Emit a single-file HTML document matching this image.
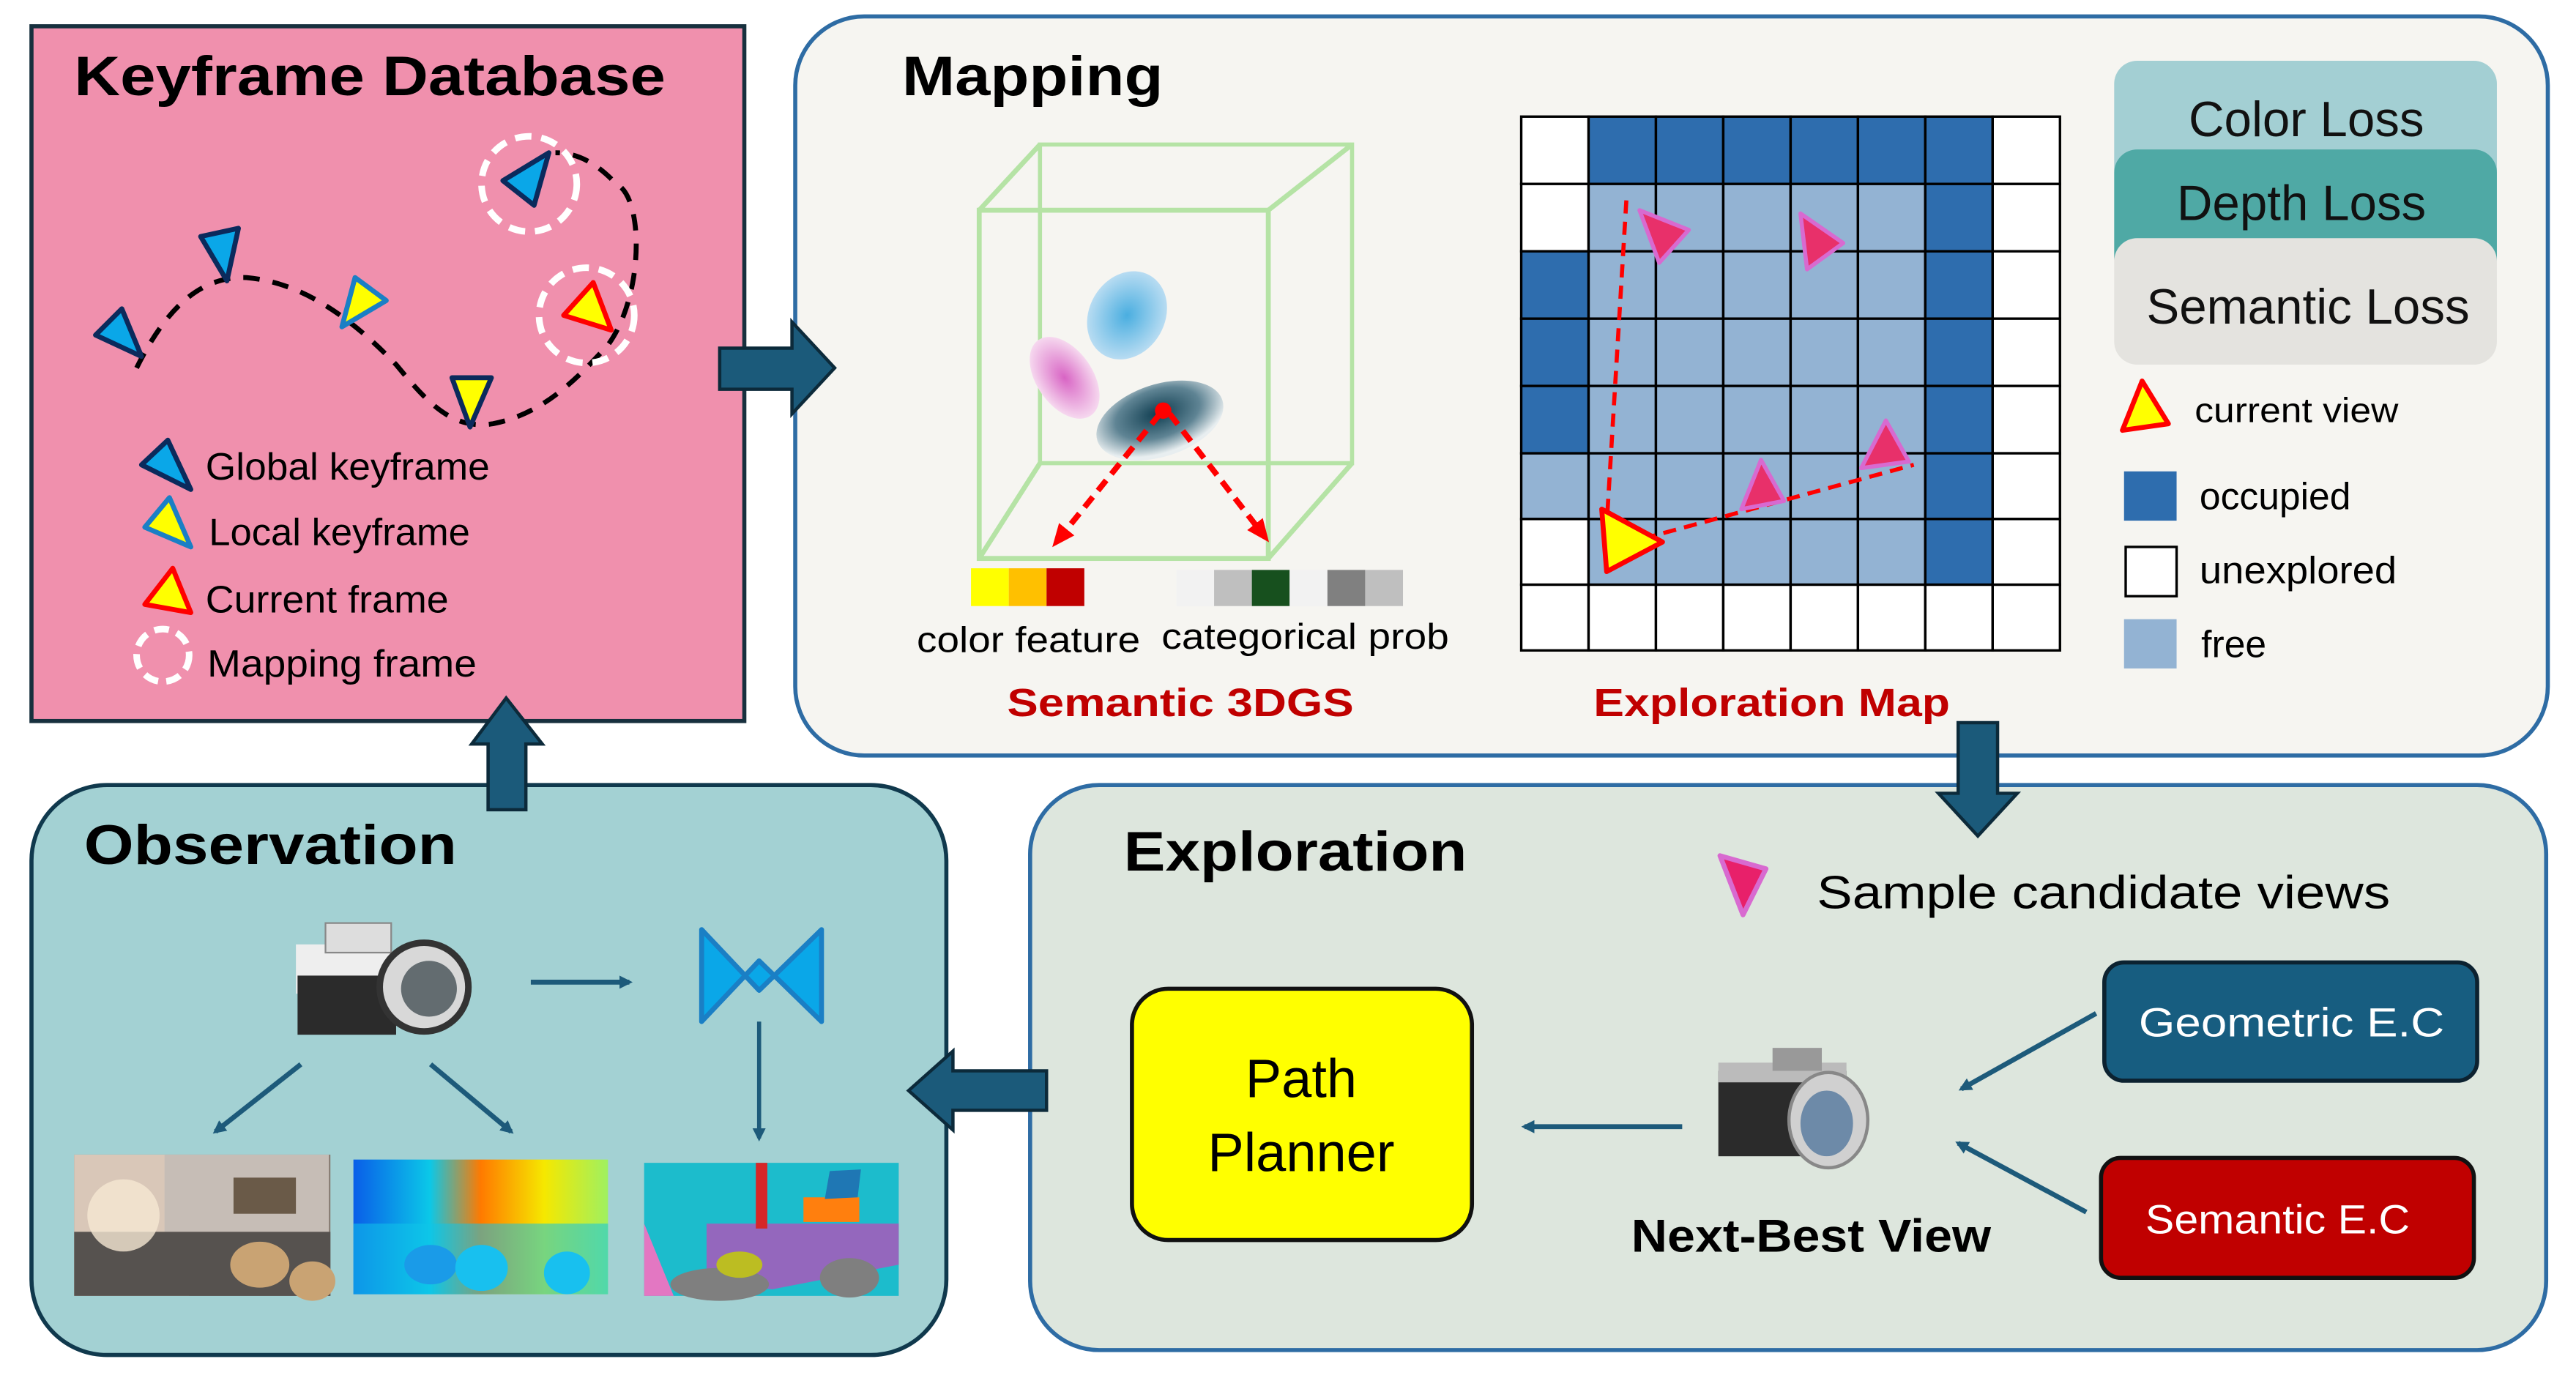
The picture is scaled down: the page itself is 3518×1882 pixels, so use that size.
<!DOCTYPE html>
<html><head><meta charset="utf-8"><style>html,body{margin:0;padding:0;background:#fff}svg{display:block}text{font-family:"Liberation Sans",sans-serif}</style></head><body>
<svg width="3518" height="1882" viewBox="0 0 1568 839" xmlns="http://www.w3.org/2000/svg">
<defs>
<radialGradient id="gb" cx="50%" cy="50%" r="50%"><stop offset="0" stop-color="#4aaee0"/><stop offset="1" stop-color="#b8dcf2"/></radialGradient>
<radialGradient id="gp" cx="50%" cy="50%" r="50%"><stop offset="0" stop-color="#d864c4"/><stop offset="1" stop-color="#f6d8ef"/></radialGradient>
<radialGradient id="gd" cx="50%" cy="40%" r="55%"><stop offset="0" stop-color="#0f3d50"/><stop offset="0.6" stop-color="#5f8494"/><stop offset="1" stop-color="#e8eef0"/></radialGradient>
<linearGradient id="depth" x1="0" y1="0" x2="1" y2="0"><stop offset="0" stop-color="#0a5ee8"/><stop offset="0.3" stop-color="#0bc8e8"/><stop offset="0.5" stop-color="#ff7a00"/><stop offset="0.75" stop-color="#f5e800"/><stop offset="1" stop-color="#9ff060"/></linearGradient>
<marker id="ab" markerWidth="8" markerHeight="8" refX="6" refY="4" orient="auto" markerUnits="userSpaceOnUse"><path d="M0,0 L8,4 L0,8 z" fill="#1d5a7a"/></marker>
<marker id="ar" markerWidth="14" markerHeight="12" refX="10" refY="6" orient="auto" markerUnits="userSpaceOnUse"><path d="M0,0 L14,6 L0,12 z" fill="#f00"/></marker>
</defs>
<rect width="1568" height="839" fill="#fff"/>

<!-- Keyframe Database -->
<rect x="19" y="16" width="434" height="423" fill="#F090AD" stroke="#17303e" stroke-width="2.5"/>
<text x="45" y="58" font-size="34" font-weight="bold" textLength="360" lengthAdjust="spacingAndGlyphs">Keyframe Database</text>
<path d="M83,224 C100,190 120,168 150,169 C185,172 215,195 241,222 C260,245 275,262 300,258 C330,252 350,232 370,210 C392,180 392,120 375,112 C362,98 350,93 338,93" fill="none" stroke="#000" stroke-width="3" stroke-dasharray="10,8"/>
<circle cx="322" cy="112" r="29" fill="none" stroke="#fff" stroke-width="4" stroke-dasharray="10,6"/>
<circle cx="357" cy="192" r="29" fill="none" stroke="#fff" stroke-width="4" stroke-dasharray="10,6"/>
<g stroke-width="3" stroke-linejoin="round">
<polygon points="58,204 74,188 86,217" fill="#0aa7e8" stroke="#0b2a5c"/>
<polygon points="122,144 145,139 138,171" fill="#0aa7e8" stroke="#0b2a5c"/>
<polygon points="208,199 216,169 235,183" fill="#ffff00" stroke="#1a7fc5"/>
<polygon points="275,230 299,230 286,260" fill="#ffff00" stroke="#0b2a5c"/>
<polygon points="306,110 334,93 325,125" fill="#0aa7e8" stroke="#0b2a5c"/>
<polygon points="361,172 343,192 372,201" fill="#ffff00" stroke="#f00"/>
<polygon points="86,283 102,268 116,298" fill="#0aa7e8" stroke="#0b2a5c"/>
<polygon points="88,321 103,303 116,333" fill="#ffff00" stroke="#1a7fc5"/>
<polygon points="88,368 105,346 116,373" fill="#ffff00" stroke="#f00"/>
</g>
<circle cx="99" cy="399" r="16" fill="none" stroke="#fff" stroke-width="4" stroke-dasharray="9,5"/>
<g font-size="23" fill="#000">
<text x="125" y="292" textLength="173" lengthAdjust="spacingAndGlyphs">Global keyframe</text>
<text x="127" y="332" textLength="159" lengthAdjust="spacingAndGlyphs">Local keyframe</text>
<text x="125" y="373" textLength="148" lengthAdjust="spacingAndGlyphs">Current frame</text>
<text x="126" y="412" textLength="164" lengthAdjust="spacingAndGlyphs">Mapping frame</text>
</g>

<!-- Mapping -->
<rect x="484" y="10" width="1067" height="450" rx="42" fill="#F6F5F1" stroke="#2E6CA4" stroke-width="2.5"/>
<text x="549" y="58" font-size="34" font-weight="bold" textLength="159" lengthAdjust="spacingAndGlyphs">Mapping</text>
<g fill="none" stroke="#b5e3a5" stroke-width="3">
<rect x="596" y="128" width="176" height="212"/>
<rect x="633" y="88" width="190" height="194" stroke-width="2.5"/>
<line x1="596" y1="128" x2="633" y2="88"/><line x1="772" y1="128" x2="823" y2="88"/>
<line x1="596" y1="340" x2="633" y2="282"/><line x1="772" y1="340" x2="823" y2="282"/>
</g>
<ellipse cx="686" cy="192" rx="23" ry="28" transform="rotate(30 686 192)" fill="url(#gb)"/>
<ellipse cx="648" cy="230" rx="17" ry="28" transform="rotate(-35 648 230)" fill="url(#gp)"/>
<ellipse cx="706" cy="256" rx="40" ry="22" transform="rotate(-18 706 256)" fill="url(#gd)"/>
<circle cx="708" cy="250" r="5" fill="#f00"/>
<g stroke="#f00" stroke-width="3.5" stroke-dasharray="8,5" fill="none">
<line x1="706" y1="252" x2="643" y2="330" marker-end="url(#ar)"/>
<line x1="712" y1="252" x2="770" y2="327" marker-end="url(#ar)"/>
</g>
<rect x="591" y="346" width="23" height="23" fill="#ffff00"/><rect x="614" y="346" width="23" height="23" fill="#ffc000"/><rect x="637" y="346" width="23" height="23" fill="#c00000"/>
<rect x="716" y="347" width="23" height="22" fill="#f2f2f2"/><rect x="739" y="347" width="23" height="22" fill="#bfbfbf"/><rect x="762" y="347" width="23" height="22" fill="#17501e"/><rect x="785" y="347" width="23" height="22" fill="#f2f2f2"/><rect x="808" y="347" width="23" height="22" fill="#808080"/><rect x="831" y="347" width="23" height="22" fill="#bfbfbf"/>
<text x="558" y="397" font-size="22" textLength="136" lengthAdjust="spacingAndGlyphs">color feature</text>
<text x="707" y="395" font-size="22" textLength="175" lengthAdjust="spacingAndGlyphs">categorical prob</text>
<text x="613" y="436" font-size="24" font-weight="bold" fill="#c00000" textLength="211" lengthAdjust="spacingAndGlyphs">Semantic 3DGS</text>

<g stroke="#000" stroke-width="1.5">
<rect x="926" y="71" width="41" height="41" fill="#fff"/><rect x="967" y="71" width="41" height="41" fill="#2E6DAE"/><rect x="1008" y="71" width="41" height="41" fill="#2E6DAE"/><rect x="1049" y="71" width="41" height="41" fill="#2E6DAE"/><rect x="1090" y="71" width="41" height="41" fill="#2E6DAE"/><rect x="1131" y="71" width="41" height="41" fill="#2E6DAE"/><rect x="1172" y="71" width="41" height="41" fill="#2E6DAE"/><rect x="1213" y="71" width="41" height="41" fill="#fff"/>
<rect x="926" y="112" width="41" height="41" fill="#fff"/><rect x="967" y="112" width="41" height="41" fill="#93B3D3"/><rect x="1008" y="112" width="41" height="41" fill="#93B3D3"/><rect x="1049" y="112" width="41" height="41" fill="#93B3D3"/><rect x="1090" y="112" width="41" height="41" fill="#93B3D3"/><rect x="1131" y="112" width="41" height="41" fill="#93B3D3"/><rect x="1172" y="112" width="41" height="41" fill="#2E6DAE"/><rect x="1213" y="112" width="41" height="41" fill="#fff"/>
<rect x="926" y="153" width="41" height="41" fill="#2E6DAE"/><rect x="967" y="153" width="41" height="41" fill="#93B3D3"/><rect x="1008" y="153" width="41" height="41" fill="#93B3D3"/><rect x="1049" y="153" width="41" height="41" fill="#93B3D3"/><rect x="1090" y="153" width="41" height="41" fill="#93B3D3"/><rect x="1131" y="153" width="41" height="41" fill="#93B3D3"/><rect x="1172" y="153" width="41" height="41" fill="#2E6DAE"/><rect x="1213" y="153" width="41" height="41" fill="#fff"/>
<rect x="926" y="194" width="41" height="41" fill="#2E6DAE"/><rect x="967" y="194" width="41" height="41" fill="#93B3D3"/><rect x="1008" y="194" width="41" height="41" fill="#93B3D3"/><rect x="1049" y="194" width="41" height="41" fill="#93B3D3"/><rect x="1090" y="194" width="41" height="41" fill="#93B3D3"/><rect x="1131" y="194" width="41" height="41" fill="#93B3D3"/><rect x="1172" y="194" width="41" height="41" fill="#2E6DAE"/><rect x="1213" y="194" width="41" height="41" fill="#fff"/>
<rect x="926" y="235" width="41" height="41" fill="#2E6DAE"/><rect x="967" y="235" width="41" height="41" fill="#93B3D3"/><rect x="1008" y="235" width="41" height="41" fill="#93B3D3"/><rect x="1049" y="235" width="41" height="41" fill="#93B3D3"/><rect x="1090" y="235" width="41" height="41" fill="#93B3D3"/><rect x="1131" y="235" width="41" height="41" fill="#93B3D3"/><rect x="1172" y="235" width="41" height="41" fill="#2E6DAE"/><rect x="1213" y="235" width="41" height="41" fill="#fff"/>
<rect x="926" y="276" width="41" height="40" fill="#93B3D3"/><rect x="967" y="276" width="41" height="40" fill="#93B3D3"/><rect x="1008" y="276" width="41" height="40" fill="#93B3D3"/><rect x="1049" y="276" width="41" height="40" fill="#93B3D3"/><rect x="1090" y="276" width="41" height="40" fill="#93B3D3"/><rect x="1131" y="276" width="41" height="40" fill="#93B3D3"/><rect x="1172" y="276" width="41" height="40" fill="#2E6DAE"/><rect x="1213" y="276" width="41" height="40" fill="#fff"/>
<rect x="926" y="316" width="41" height="40" fill="#fff"/><rect x="967" y="316" width="41" height="40" fill="#93B3D3"/><rect x="1008" y="316" width="41" height="40" fill="#93B3D3"/><rect x="1049" y="316" width="41" height="40" fill="#93B3D3"/><rect x="1090" y="316" width="41" height="40" fill="#93B3D3"/><rect x="1131" y="316" width="41" height="40" fill="#93B3D3"/><rect x="1172" y="316" width="41" height="40" fill="#2E6DAE"/><rect x="1213" y="316" width="41" height="40" fill="#fff"/>
<rect x="926" y="356" width="41" height="40" fill="#fff"/><rect x="967" y="356" width="41" height="40" fill="#fff"/><rect x="1008" y="356" width="41" height="40" fill="#fff"/><rect x="1049" y="356" width="41" height="40" fill="#fff"/><rect x="1090" y="356" width="41" height="40" fill="#fff"/><rect x="1131" y="356" width="41" height="40" fill="#fff"/><rect x="1172" y="356" width="41" height="40" fill="#fff"/><rect x="1213" y="356" width="41" height="40" fill="#fff"/>
</g>
<g stroke="#f00" stroke-width="2.5" stroke-dasharray="8,5" fill="none">
<line x1="990" y1="122" x2="978" y2="320"/>
<line x1="1000" y1="328" x2="1165" y2="283"/>
</g>
<g fill="#e8306a" stroke="#d86ad0" stroke-width="2.5" stroke-linejoin="round">
<polygon points="998,128 1028,140 1010,160"/>
<polygon points="1096,130 1122,148 1100,164"/>
<polygon points="1060,310 1072,280 1086,305"/>
<polygon points="1133,285 1148,256 1162,281"/>
</g>
<polygon points="975,310 1012,330 978,348" fill="#ffff00" stroke="#f00" stroke-width="3" stroke-linejoin="round"/>
<text x="970" y="436" font-size="24" font-weight="bold" fill="#c00000" textLength="217" lengthAdjust="spacingAndGlyphs">Exploration Map</text>

<rect x="1287" y="37" width="233" height="80" rx="14" fill="#A3CFD3"/>
<rect x="1287" y="91" width="233" height="80" rx="14" fill="#4FA9A5"/>
<rect x="1287" y="145" width="233" height="77" rx="14" fill="#E4E3DF"/>
<text x="1404" y="83" font-size="30" text-anchor="middle" fill="#111">Color Loss</text>
<text x="1401" y="134" font-size="30" text-anchor="middle" fill="#111">Depth Loss</text>
<text x="1405" y="197" font-size="30" text-anchor="middle" fill="#111">Semantic Loss</text>
<polygon points="1304,232 1292,262 1320,258" fill="#ffff00" stroke="#f00" stroke-width="3" stroke-linejoin="round"/>
<text x="1336" y="257" font-size="21" textLength="124" lengthAdjust="spacingAndGlyphs">current view</text>
<rect x="1293" y="287" width="32" height="30" fill="#2E6DAE"/>
<text x="1339" y="310" font-size="23">occupied</text>
<rect x="1294" y="333" width="31" height="30" fill="#fff" stroke="#000" stroke-width="1.5"/>
<text x="1339" y="355" font-size="23" textLength="120" lengthAdjust="spacingAndGlyphs">unexplored</text>
<rect x="1293" y="377" width="32" height="30" fill="#93B3D3"/>
<text x="1340" y="400" font-size="23">free</text>

<!-- Observation -->
<rect x="19" y="478" width="557" height="347" rx="46" fill="#A3D1D3" stroke="#10394d" stroke-width="2.5"/>
<text x="51" y="526" font-size="34" font-weight="bold" textLength="227" lengthAdjust="spacingAndGlyphs">Observation</text>
<g>
<rect x="180" y="575" width="58" height="30" fill="#eee"/>
<rect x="198" y="562" width="40" height="18" fill="#ddd" stroke="#888" stroke-width="1"/>
<rect x="181" y="594" width="60" height="36" fill="#2b2b2b"/>
<circle cx="258" cy="601" r="27" fill="#d8d8d8" stroke="#333" stroke-width="4"/>
<circle cx="261" cy="602" r="17" fill="#636c70"/>
</g>
<line x1="323" y1="598" x2="383" y2="598" stroke="#1d5a7a" stroke-width="3" marker-end="url(#ab)"/>
<polygon points="427,566 462,603 500,566 500,622 462,585 427,622" fill="#0aa7e8" stroke="#1a7fc5" stroke-width="3" stroke-linejoin="round"/>
<line x1="183" y1="648" x2="131" y2="689" stroke="#1d5a7a" stroke-width="3" marker-end="url(#ab)"/>
<line x1="262" y1="648" x2="311" y2="689" stroke="#1d5a7a" stroke-width="3" marker-end="url(#ab)"/>
<line x1="462" y1="622" x2="462" y2="693" stroke="#1d5a7a" stroke-width="2.5" marker-end="url(#ab)"/>
<rect x="45" y="703" width="156" height="86" fill="#8a7f76"/>
<rect x="45" y="703" width="70" height="86" fill="#d9c7b8"/>
<rect x="100" y="703" width="100" height="50" fill="#c6bdb6"/>
<rect x="45" y="750" width="156" height="39" fill="#56524f"/>
<circle cx="75" cy="740" r="22" fill="#f5e7d2" opacity="0.8"/>
<ellipse cx="158" cy="770" rx="18" ry="14" fill="#c9a373"/><ellipse cx="190" cy="780" rx="14" ry="12" fill="#c9a373"/>
<rect x="142" y="717" width="38" height="22" fill="#6a5a48"/>
<rect x="215" y="706" width="155" height="82" fill="url(#depth)"/>
<rect x="215" y="745" width="155" height="43" fill="#10c4e8" opacity="0.55"/>
<ellipse cx="262" cy="770" rx="16" ry="12" fill="#1a9be8"/><ellipse cx="293" cy="772" rx="16" ry="14" fill="#18c0ef"/><ellipse cx="345" cy="775" rx="14" ry="13" fill="#18c0ef"/>
<rect x="392" y="708" width="155" height="81" fill="#1cbccc"/>
<polygon points="430,745 547,745 547,770 470,785 430,780" fill="#9467bd"/>
<rect x="460" y="708" width="7" height="40" fill="#d62728"/>
<polygon points="392,745 410,789 392,789" fill="#e377c2"/>
<rect x="489" y="729" width="34" height="15" fill="#ff7f0e"/>
<polygon points="505,713 524,712 522,729 502,730" fill="#1f77b4"/>
<ellipse cx="438" cy="782" rx="30" ry="10" fill="#7f7f7f"/><ellipse cx="517" cy="778" rx="18" ry="12" fill="#7f7f7f"/>
<ellipse cx="450" cy="770" rx="14" ry="8" fill="#bcbd22"/>

<!-- Exploration -->
<rect x="627" y="478" width="923" height="344" rx="42" fill="#DDE6DD" stroke="#2E6CA4" stroke-width="2.5"/>
<text x="684" y="530" font-size="34" font-weight="bold" textLength="209" lengthAdjust="spacingAndGlyphs">Exploration</text>
<polygon points="1047,521 1075,529 1061,557" fill="#e8206a" stroke="#d86ad0" stroke-width="3" stroke-linejoin="round"/>
<text x="1106" y="553" font-size="28" textLength="349" lengthAdjust="spacingAndGlyphs">Sample candidate views</text>
<rect x="689" y="602" width="207" height="153" rx="22" fill="#ffff00" stroke="#111" stroke-width="2.5"/>
<text x="792" y="668" font-size="33" text-anchor="middle">Path</text>
<text x="792" y="713" font-size="33" text-anchor="middle">Planner</text>
<g>
<rect x="1046" y="652" width="78" height="52" fill="#2b2b2b"/>
<rect x="1046" y="647" width="78" height="12" fill="#bbb"/>
<rect x="1079" y="638" width="30" height="14" fill="#999"/>
<ellipse cx="1113" cy="682" rx="24" ry="29" fill="#d0d0d0" stroke="#888" stroke-width="2"/>
<ellipse cx="1112" cy="684" rx="16" ry="20" fill="#6d8aa8"/>
</g>
<line x1="1024" y1="686" x2="928" y2="686" stroke="#1d5a7a" stroke-width="3" marker-end="url(#ab)"/>
<line x1="1276" y1="617" x2="1194" y2="663" stroke="#1d5a7a" stroke-width="3" marker-end="url(#ab)"/>
<line x1="1270" y1="738" x2="1192" y2="696" stroke="#1d5a7a" stroke-width="3" marker-end="url(#ab)"/>
<text x="993" y="762" font-size="28" font-weight="bold" textLength="219" lengthAdjust="spacingAndGlyphs">Next-Best View</text>
<rect x="1281" y="586" width="227" height="72" rx="12" fill="#175d80" stroke="#0c2230" stroke-width="2.5"/>
<text x="1302" y="631" font-size="25" fill="#fff" textLength="186" lengthAdjust="spacingAndGlyphs">Geometric E.C</text>
<rect x="1279" y="705" width="227" height="73" rx="12" fill="#c00000" stroke="#111" stroke-width="2.5"/>
<text x="1306" y="751" font-size="25" fill="#fff" textLength="161" lengthAdjust="spacingAndGlyphs">Semantic E.C</text>

<g fill="#1b5a7a" stroke="#0c2a3a" stroke-width="2">
<polygon points="438,212 482,212 482,196 508,224 482,252 482,237 438,237"/>
<polygon points="297,493 297,453 287,453 308,425 330,453 320,453 320,493"/>
<polygon points="1192,440 1216,440 1216,483 1228,483 1204,509 1180,483 1192,483"/>
<polygon points="637,652 580,652 580,640 553,664 580,688 580,676 637,676"/>
</g>
</svg>
</body></html>
